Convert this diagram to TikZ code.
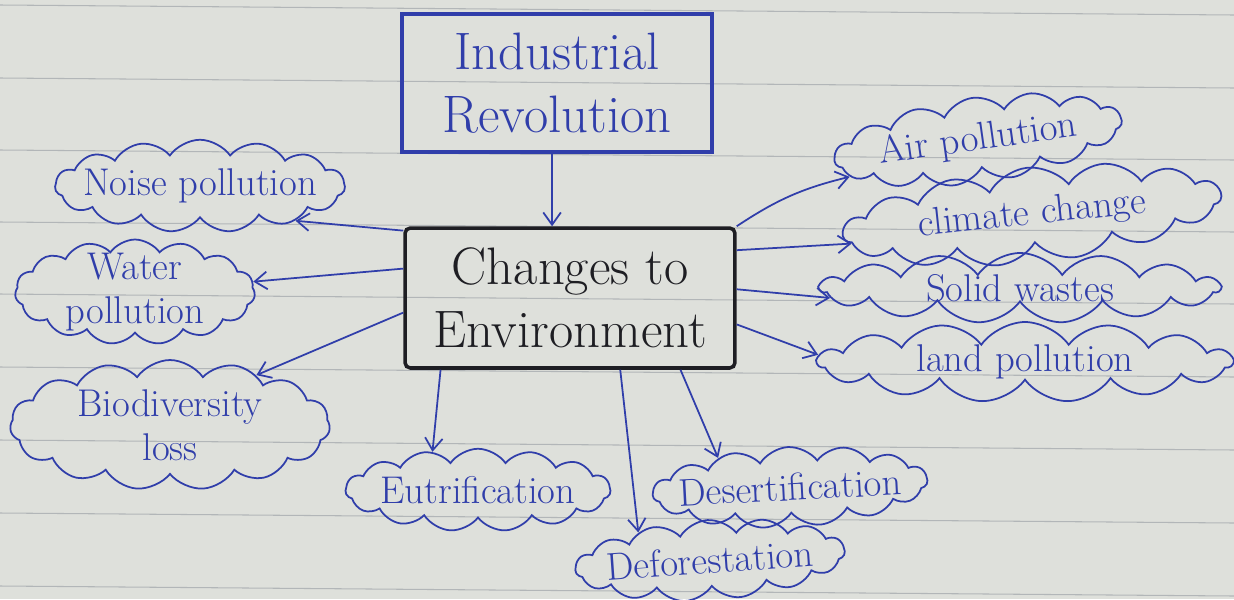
\documentclass[tikz,border=0pt]{standalone}
\usetikzlibrary{shapes.symbols,arrows.meta}
\definecolor{paper}{RGB}{222,224,219}
\definecolor{rule}{RGB}{178,182,184}
\definecolor{ink}{RGB}{48,62,170}
\definecolor{pencil}{RGB}{30,30,35}
\tikzset{
  puff/.style={cloud, cloud puffs=15, cloud puff arc=110, cloud ignores aspect,
    draw=ink, line width=1pt},
  word/.style={text=ink, font=\fontsize{22}{25}\selectfont, align=center},
  arr/.style={draw=ink, line width=1pt, -{Straight Barb[length=7pt,width=10pt]}},
}
\begin{document}
\begin{tikzpicture}[x=0.02cm, y=-0.02cm]
  \useasboundingbox (0,0) rectangle (1234,599);
  \fill[paper] (0,0) rectangle (1234,599);
  \foreach \y in {5,78,150,222,294,367,440,513,586}
    \draw[rule, line width=0.6pt] (0,\y) -- (1234,\y+10);

  % the two boxes
  \node[draw=ink, line width=1.8pt, minimum width=6.2cm, minimum height=2.76cm,
    text=ink, font=\fontsize{30}{36}\selectfont, align=center] (ir) at (557,83)
    {Industrial\\Revolution};
  \node[draw=pencil, line width=2pt, rounded corners=3pt, minimum width=6.6cm,
    minimum height=2.8cm, text=pencil, font=\fontsize{30}{36}\selectfont,
    align=center] (ce) at (570,298) {Changes to\\Environment};
  \draw[arr] (ir.-94) -- (ir.-94 |- ce.north);

  % left side
  \node[puff, minimum width=5.8cm, minimum height=1.85cm] (noise) at (200,186) {};
  \node[word] (noiset) at (noise) {Noise pollution};
  \node[puff, minimum width=4.8cm, minimum height=2.1cm] (water) at (135,292) {};
  \node[word] (watert) at (water) {Water\\pollution};
  \node[puff, minimum width=6.4cm, minimum height=2.6cm] (bio) at (170,425) {};
  \node[word] (biot) at (bio) {Biodiversity\\loss};

  % bottom
  \node[puff, minimum width=5.3cm, minimum height=1.65cm] (eutro) at (478,490) {};
  \node[word] (eutrot) at (eutro) {Eutrification};
  \node[puff, minimum width=5.5cm, minimum height=1.6cm, rotate=3] (desert) at (790,487) {};
  \node[word, rotate=3] (desertt) at (desert) {Desertification};
  \node[puff, minimum width=5.4cm, minimum height=1.6cm, rotate=4] (forest) at (710,560) {};
  \node[word, rotate=4] (forestt) at (forest) {Deforestation};

  % right side
  \node[puff, minimum width=5.8cm, minimum height=1.7cm, rotate=8] (air) at (978,140) {};
  \node[word, rotate=8] (airt) at (air) {Air pollution};
  \node[puff, minimum width=7.6cm, minimum height=1.9cm, rotate=6] (climate) at (1032,215) {};
  \node[word, rotate=6] (climatet) at (climate) {climate change};
  \node[puff, minimum width=8cm, minimum height=1.4cm] (solid) at (1020,288) {};
  \node[word] (solidt) at (solid) {Solid wastes};
  \node[puff, minimum width=8.3cm, minimum height=1.6cm] (land) at (1025,362) {};
  \node[word] (landt) at (land) {land pollution};

  % arrows out of the centre box
  \draw[arr] (ce.158) -- (noise.-20);
  \draw[arr] (ce.170) -- (water.5);
  \draw[arr] (ce.185) -- (bio.30);
  \draw[arr] (ce.209) -- (eutro.140);
  \draw[arr] (ce.305) -- (forest.155);
  \draw[arr] (ce.327) -- (desert.155);
  \draw[arr] (ce.north east) to[bend left=10] (air.188);
  \draw[arr] (ce.16) -- (climate.183);
  \draw[arr] (ce.3) -- (solid.183);
  \draw[arr] (ce.-9) -- (land.178);
\end{tikzpicture}
\end{document}
